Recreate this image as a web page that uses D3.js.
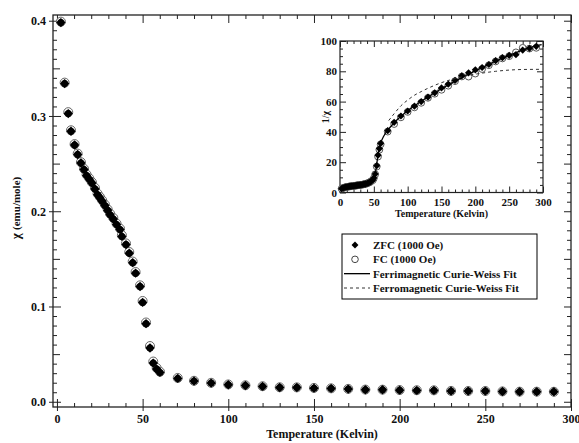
<!DOCTYPE html>
<html>
<head>
<meta charset="utf-8">
<script src="https://cdn.jsdelivr.net/npm/d3@7"></script>
<style>
  body { margin: 0; background: #fff; }
  svg text { font-family: "Liberation Serif", "Times New Roman", serif; font-weight: bold; fill: #111; }
  .axis path { display: none; }
  .axis line { stroke: #222; }
</style>
</head>
<body>
<svg id="chart" width="579" height="443"></svg>
<script>
// temperatures of the measured points (K)
const temps = [2.3, 4.5, 6.6, 8.2, 10.3, 12.1, 14, 15.8, 17.3, 18.9,
  20.4, 22.2, 23.7, 25.1, 26.4, 28, 29.6, 31, 32.9, 34.8,
  36.8, 37.9, 40.3, 42.2, 44.2, 45.9, 48.5, 50, 52, 54.3,
  56.2, 58.2, 60.1, 70.5, 80, 90, 100, 110, 120, 130,
  140, 150, 160, 170, 180, 190, 200, 210, 220, 230, 240, 250, 260, 270, 280, 290];

// susceptibility, emu/mole
const zfcChi = [0.398, 0.334, 0.3025, 0.284, 0.2696, 0.2595, 0.2507, 0.2437, 0.2374, 0.2335,
  0.2297, 0.2234, 0.2174, 0.214, 0.2104, 0.2059, 0.201, 0.1964, 0.1919, 0.186,
  0.1807, 0.1736, 0.165, 0.156, 0.146, 0.135, 0.121, 0.1043, 0.082, 0.0564,
  0.0406, 0.0343, 0.0308, 0.0245, 0.0217, 0.0196, 0.0179, 0.0171, 0.0161, 0.015,
  0.015, 0.0143, 0.014, 0.0133, 0.0126, 0.0126, 0.0122, 0.0119, 0.0119, 0.0112, 0.0112, 0.0112, 0.0108, 0.0105, 0.0105, 0.0105];
const fcChi = [0.399, 0.335, 0.304, 0.285, 0.2705, 0.2605, 0.2515, 0.2445, 0.2385, 0.2345,
  0.2305, 0.2245, 0.2185, 0.215, 0.2115, 0.207, 0.202, 0.1975, 0.193, 0.187,
  0.1818, 0.1748, 0.1662, 0.1572, 0.1472, 0.1362, 0.1222, 0.1058, 0.0832, 0.0585,
  0.0422, 0.0355, 0.0315, 0.025, 0.022, 0.0199, 0.0182, 0.0173, 0.0163, 0.0152,
  0.0151, 0.0145, 0.0141, 0.0135, 0.0128, 0.0127, 0.0123, 0.0121, 0.012, 0.0114, 0.0113, 0.0113, 0.0109, 0.0106, 0.0106, 0.0105];

// inset: 1/chi
const zfcInv = [2.5, 3.0, 3.3, 3.5, 3.7, 3.85, 4.0, 4.1, 4.2, 4.3,
  4.35, 4.5, 4.6, 4.7, 4.75, 4.85, 5.0, 5.1, 5.2, 5.4,
  5.5, 5.75, 6.05, 6.4, 6.85, 7.4, 8.3, 9.6, 12.2, 17.7,
  24.6, 29, 32.4, 40.8, 46.3, 50.5, 53.8, 57, 60, 63,
  65.8, 69, 71.5, 74, 77, 79, 81, 82.5, 84.5, 87, 89, 90.5, 91, 94, 95.2, 96.5];
const fcInv = [2.5, 3.0, 3.3, 3.5, 3.7, 3.85, 4.0, 4.1, 4.2, 4.3,
  4.35, 4.5, 4.6, 4.7, 4.75, 4.85, 5.0, 5.1, 5.2, 5.4,
  5.5, 5.75, 6.05, 6.4, 6.85, 7.4, 8.2, 9.4, 12.0, 17.1,
  23.7, 28.2, 31.8, 40.2, 45.2, 49.6, 53.2, 56.2, 59.2, 62.5,
  65.2, 67.8, 70.5, 73.5, 76.6, 76.5, 78.5, 81.5, 84, 86.5, 88.5, 90, 92.5, 95.5, 95, 95.5];

// fit curves (inset)
const ferriT = [50, 52, 54, 56, 58, 60, 65, 70, 80, 90, 100, 120, 140, 160, 180, 200, 220, 240, 260, 280, 298];
const ferriV = [9.6, 12.2, 17.7, 24.6, 29, 32.4, 37.5, 40.8, 46, 50.3, 54, 60.2, 65.8, 71, 75.8, 80.3, 84.6, 88.6, 92.3, 95.6, 97.6];
const ferroT = [72, 80, 90, 100, 110, 120, 130, 150, 170, 190, 210, 230, 250, 270, 298];
const ferroV = [47.5, 52, 57.2, 61, 64.2, 66.6, 68.8, 72.5, 75.2, 77.3, 78.8, 80, 80.8, 81.2, 81.3];

const legendItems = ["ZFC (1000 Oe)", "FC (1000 Oe)", "Ferrimagnetic Curie-Weiss Fit", "Ferromagnetic Curie-Weiss Fit"];

const svg = d3.select("#chart");

// ---- main plot ----
const L = 53, R = 571, T = 15, B = 407;
const x = d3.scaleLinear().domain([-2.3, 300]).range([L, R]);
const y = d3.scaleLinear().domain([-0.0055, 0.406]).range([B, T]);

const xMinor = d3.range(0, 301, 10).filter(d => d % 50);
const xMajor = d3.range(0, 301, 50);
const yMinor = d3.range(0, 41, 1).map(d => d / 100).filter((d, i) => i % 5);
const yMid = [0.05, 0.15, 0.25, 0.35];
const yMajor = [0, 0.1, 0.2, 0.3, 0.4];

function ticks(axisFn, scale, vals, size, pos, fmt) {
  const a = axisFn(scale).tickValues(vals).tickSize(size).tickPadding(3);
  a.tickFormat(fmt || "");
  return svg.append("g").attr("class", "axis").attr("transform", pos).call(a);
}

// left
ticks(d3.axisLeft, y, yMinor, -4, `translate(${L},0)`);
ticks(d3.axisLeft, y, yMid, -7, `translate(${L},0)`);
ticks(d3.axisLeft, y, yMajor, -8, `translate(${L},0)`);
ticks(d3.axisLeft, y, yMajor, 4, `translate(${L},0)`, d3.format(".1f"))
  .selectAll("text").style("font-size", "12px").attr("dy", "0.35em");
// right
ticks(d3.axisRight, y, yMinor, -4, `translate(${R},0)`);
ticks(d3.axisRight, y, yMid.concat(yMajor), -7, `translate(${R},0)`);
// bottom
ticks(d3.axisBottom, x, xMinor, -4, `translate(0,${B})`);
ticks(d3.axisBottom, x, xMajor, -8, `translate(0,${B})`);
ticks(d3.axisBottom, x, xMajor, 4, `translate(0,${B})`, d3.format("d"))
  .selectAll("text").style("font-size", "12px");
// top
ticks(d3.axisTop, x, xMinor, -4, `translate(0,${T})`);
ticks(d3.axisTop, x, xMajor, -8, `translate(0,${T})`);

svg.append("rect").attr("x", L).attr("y", T).attr("width", R - L).attr("height", B - T)
  .attr("fill", "none").attr("stroke", "#222").attr("stroke-width", 1.3);

svg.append("text").attr("x", (L + R) / 2 + 10).attr("y", 438).attr("text-anchor", "middle")
  .style("font-size", "12px").text("Temperature (Kelvin)");
const yl = svg.append("text").attr("transform", "translate(20,208) rotate(-90)").attr("text-anchor", "middle")
  .style("font-size", "11px");
yl.append("tspan").style("font-size", "13px").text("χ ");
yl.append("tspan").text("(emu/mole)");

// symmetric diamond: a square turned by 45 degrees
const diamondPath = s => d3.symbol().type(d3.symbolSquare).size(s)();

const mainPts = svg.append("g");
mainPts.selectAll("circle.fc").data(temps).join("circle").attr("class", "fc")
  .attr("cx", d => x(d)).attr("cy", (d, i) => y(fcChi[i]))
  .attr("r", 4.5).attr("fill", "#fff").attr("stroke", "#666").attr("stroke-width", 1);
mainPts.selectAll("circle.zc").data(temps).join("circle").attr("class", "zc")
  .attr("cx", d => x(d)).attr("cy", (d, i) => y(zfcChi[i]))
  .attr("r", 3.5).attr("fill", "#111");
mainPts.selectAll("path.zfc").data(temps).join("path").attr("class", "zfc")
  .attr("transform", (d, i) => `translate(${x(d)},${y(zfcChi[i])}) rotate(45)`)
  .attr("d", diamondPath(44)).attr("fill", "#000");

// ---- inset ----
const iL = 340, iR = 543, iT = 41, iB = 192.5;
const xi = d3.scaleLinear().domain([0, 300]).range([iL, iR]);
const yi = d3.scaleLinear().domain([0, 100]).range([iB, iT]);

svg.append("rect").attr("x", iL).attr("y", iT).attr("width", iR - iL).attr("height", iB - iT)
  .attr("fill", "#fff").attr("stroke", "none");

const xiMinor = d3.range(0, 301, 10).filter(d => d % 50);
const xiMajor = d3.range(0, 301, 50);
const yiMinor = d3.range(0, 101, 5).filter(d => d % 20);
const yiMajor = d3.range(0, 101, 20);

ticks(d3.axisLeft, yi, yiMinor, -3, `translate(${iL},0)`);
ticks(d3.axisLeft, yi, yiMajor, -6, `translate(${iL},0)`);
ticks(d3.axisLeft, yi, yiMajor, 0, `translate(${iL},0)`, d3.format("d"))
  .selectAll("text").style("font-size", "11px");
ticks(d3.axisRight, yi, yiMinor, -3, `translate(${iR},0)`);
ticks(d3.axisRight, yi, yiMajor, -6, `translate(${iR},0)`);
ticks(d3.axisBottom, xi, xiMinor, -3, `translate(0,${iB})`);
ticks(d3.axisBottom, xi, xiMajor, -6, `translate(0,${iB})`);
ticks(d3.axisBottom, xi, xiMajor, 0, `translate(0,${iB})`, d3.format("d"))
  .selectAll("text").style("font-size", "11px").attr("y", 6);
ticks(d3.axisTop, xi, xiMinor, -3, `translate(0,${iT})`);
ticks(d3.axisTop, xi, xiMajor, -6, `translate(0,${iT})`);

svg.append("rect").attr("x", iL).attr("y", iT).attr("width", iR - iL).attr("height", iB - iT)
  .attr("fill", "none").attr("stroke", "#222").attr("stroke-width", 1.2);

svg.append("text").attr("x", (iL + iR) / 2).attr("y", 217).attr("text-anchor", "middle")
  .style("font-size", "10px").text("Temperature (Kelvin)");
svg.append("text").attr("transform", "translate(329,117) rotate(-90)").attr("text-anchor", "middle")
  .style("font-size", "10px").text("1/χ");

const line = d3.line().x(d => xi(d[0])).y(d => yi(d[1])).curve(d3.curveMonotoneX);

const inPts = svg.append("g");
inPts.selectAll("circle.fc").data(temps).join("circle").attr("class", "fc")
  .attr("cx", d => xi(d)).attr("cy", (d, i) => yi(fcInv[i]))
  .attr("r", 3.4).attr("fill", "#fff").attr("stroke", "#444").attr("stroke-width", 0.9);
inPts.selectAll("path.zfc").data(temps).join("path").attr("class", "zfc")
  .attr("transform", (d, i) => `translate(${xi(d)},${yi(zfcInv[i])}) rotate(45)`)
  .attr("d", diamondPath(26)).attr("fill", "#000");

svg.append("path").datum(ferriT.map((t, i) => [t, ferriV[i]])).attr("d", line)
  .attr("fill", "none").attr("stroke", "#000").attr("stroke-width", 1.3);
svg.append("path").datum(ferroT.map((t, i) => [t, ferroV[i]])).attr("d", line)
  .attr("fill", "none").attr("stroke", "#333").attr("stroke-width", 1).attr("stroke-dasharray", "3,3");

// ---- legend ----
const lg = svg.append("g");
lg.append("rect").attr("x", 342).attr("y", 234).attr("width", 195).attr("height", 65)
  .attr("fill", "#fff").attr("stroke", "#000").attr("stroke-width", 1);
const rowY = d3.scalePoint().domain(legendItems).range([245, 288]);
legendItems.forEach((name, i) => {
  const yy = rowY(name);
  if (i === 0) lg.append("path").attr("transform", `translate(355,${yy}) rotate(45)`).attr("d", diamondPath(24)).attr("fill", "#000");
  if (i === 1) lg.append("circle").attr("cx", 355).attr("cy", yy).attr("r", 3.3).attr("fill", "#fff").attr("stroke", "#444");
  if (i === 2) lg.append("line").attr("x1", 344).attr("x2", 370).attr("y1", yy).attr("y2", yy).attr("stroke", "#000").attr("stroke-width", 1.3);
  if (i === 3) lg.append("line").attr("x1", 344).attr("x2", 370).attr("y1", yy).attr("y2", yy).attr("stroke", "#333").attr("stroke-dasharray", "3,3");
  lg.append("text").attr("x", 373).attr("y", yy).attr("dy", "0.35em").style("font-size", "11px").text(name);
});
</script>
</body>
</html>
